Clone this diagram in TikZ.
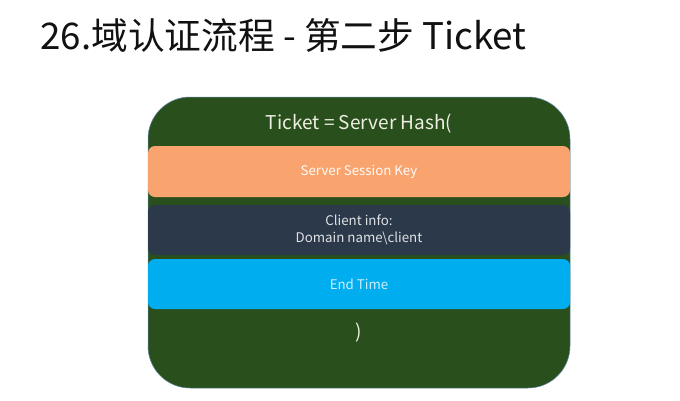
\documentclass[tikz,border=0pt]{standalone}
\usepackage{fontspec}
\setmainfont{Noto Sans CJK SC}
\usetikzlibrary{positioning}
\definecolor{Frame}{HTML}{29501C}
\definecolor{Edge}{HTML}{5F86A6}
\definecolor{SKey}{HTML}{F9A46E}
\definecolor{CInfo}{HTML}{2B394A}
\definecolor{ETime}{HTML}{00ADEF}
\definecolor{Ink}{HTML}{111111}
\definecolor{Pale}{HTML}{EEEEE2}

\begin{document}
\begin{tikzpicture}[x=1pt,y=-1pt,
    bar/.style={minimum width=422pt,rounded corners=7pt,inner sep=0pt,
      align=center,font=\fontsize{13.3}{17}\selectfont}]
  \useasboundingbox (0,0) rectangle (680,400);
  \fill[white] (0,0) rectangle (680,400);
  \node[font=\fontsize{36.7}{40}\selectfont,Ink,anchor=west] (title) at (37,35)
    {26.域认证流程 - 第二步 Ticket};
  \node[fill=Frame,draw=Edge,line width=0.5pt,rounded corners=42pt,
    minimum width=422pt,minimum height=291pt] (ticket) at (359,242.5) {};
  \node[font=\fontsize{19}{22}\selectfont,Pale] (hash) at (359,124) {Ticket = Server Hash(};
  \node[bar,fill=SKey,minimum height=51pt,text=white!96!SKey] (skey) at (359,171.5)
    {Server Session Key};
  \node[bar,fill=CInfo,minimum height=50pt,text=white!85!CInfo] (cinfo) at (359,230)
    {Client info:\\Domain name\textbackslash client};
  \node[bar,fill=ETime,minimum height=50pt,text=white!80!ETime] (etime) at (359,284)
    {End Time};
  \node[font=\fontsize{19}{22}\selectfont,Pale] (close) at (359,333) {)};
\end{tikzpicture}
\end{document}
